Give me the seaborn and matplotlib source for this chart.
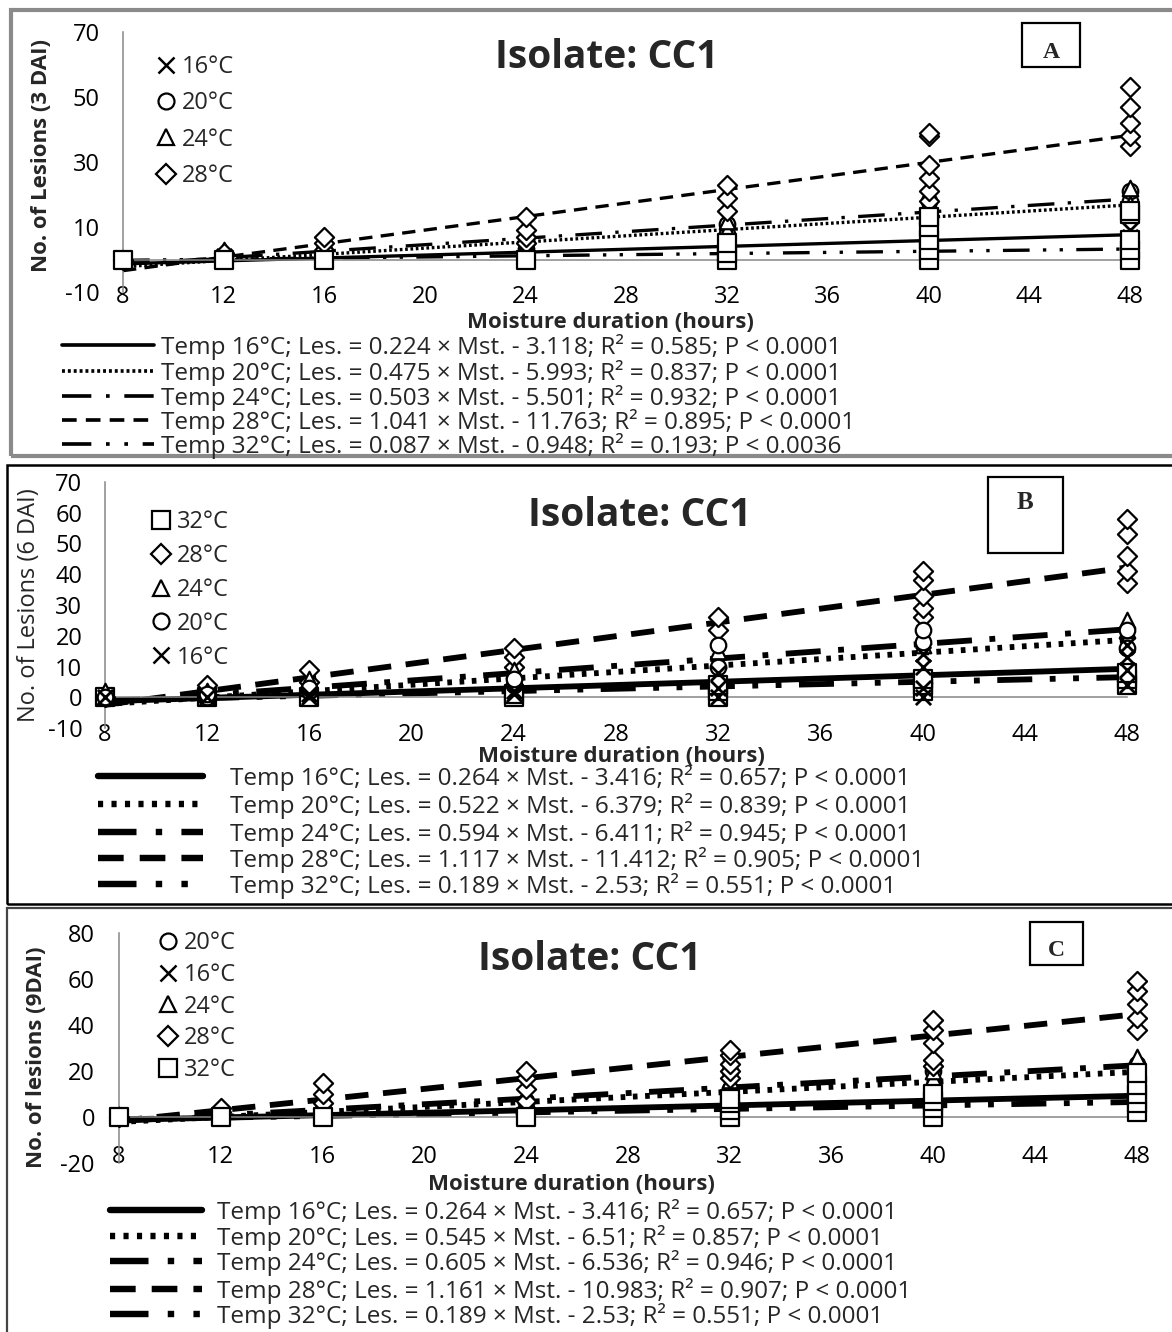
import warnings
warnings.filterwarnings('ignore')
import numpy as np
import pandas as pd
import matplotlib
matplotlib.use('Agg')
import matplotlib.pyplot as plt
from matplotlib.lines import Line2D
from matplotlib.patches import Rectangle
import seaborn as sns

sns.set_style('white')
plt.rcParams['font.family'] = ['Open Sans', 'DejaVu Sans']
plt.rcParams['axes.unicode_minus'] = False

# ---------------- data ----------------
moisture = [8, 12, 16, 24, 32, 40, 48]
temps = [16, 20, 24, 28, 32]

# Panel A (3 DAI): replicate lesion counts per moisture duration
a16 = [[0], [0, 1], [0, 1], [1, 3], [2, 5, 8], [4, 7, 10], [5, 7, 9]]
a20 = [[0], [1], [1, 3], [3, 5], [8, 11], [15, 18], [18, 21]]
a24 = [[0], [2, 3], [3, 5], [4, 6], [9, 12], [13, 16], [17, 22]]
a28 = [[0], [2], [3, 5, 7], [5, 7, 9, 13], [15, 19, 23], [18, 21, 25, 29, 38, 39], [35, 38, 42, 47, 53]]
a32 = [[0], [0], [0], [0], [0, 2, 5], [0, 3, 6, 10, 13], [0, 3, 6, 14, 15]]
a_slope = [0.224, 0.475, 0.503, 1.041, 0.087]
a_icpt = [-3.118, -5.993, -5.501, -11.763, -0.948]
a_r2 = ['0.585', '0.837', '0.932', '0.895', '0.193']
a_p = ['0.0001', '0.0001', '0.0001', '0.0001', '0.0036']

# Panel B (6 DAI)
b16 = [[0], [0], [0, 1], [1, 2], [0, 3, 8], [0, 3, 10, 14], [4, 9, 13, 17]]
b20 = [[0], [0, 1], [2, 3], [4, 6], [10, 17], [18, 22], [16, 22]]
b24 = [[0, 2], [1, 2], [3, 6], [6, 9], [12, 15], [17, 20], [22, 25]]
b28 = [[0], [2, 4], [5, 9], [10, 13, 16], [22, 26], [26, 29, 33, 38, 41], [37, 41, 46, 53, 58]]
b32 = [[0], [0], [0], [0, 1], [0, 2, 4], [2, 4, 6], [4, 6, 8]]
b_slope = [0.264, 0.522, 0.594, 1.117, 0.189]
b_icpt = [-3.416, -6.379, -6.411, -11.412, -2.53]
b_r2 = ['0.657', '0.839', '0.945', '0.905', '0.551']
b_p = ['0.0001', '0.0001', '0.0001', '0.0001', '0.0001']

# Panel C (9 DAI)
c16 = [[0], [0, 1], [0, 2], [1, 3], [3, 5], [5, 8], [7, 11]]
c20 = [[0], [0, 1], [2, 3], [4, 7], [12, 20], [20, 22], [20, 23]]
c24 = [[0, 1], [1, 4], [3, 6], [6, 9], [13, 16], [17, 20], [22, 26]]
c28 = [[0], [2, 4], [6, 10, 15], [7, 12, 17, 20], [17, 20, 23, 27, 29], [22, 25, 32, 38, 42], [38, 43, 49, 55, 59]]
c32 = [[0], [0], [0], [0], [0, 3, 6, 8], [0, 4, 7, 10], [2, 6, 10, 14, 19]]
c_slope = [0.264, 0.545, 0.605, 1.161, 0.189]
c_icpt = [-3.416, -6.51, -6.536, -10.983, -2.53]
c_r2 = ['0.657', '0.857', '0.946', '0.907', '0.551']
c_p = ['0.0001', '0.0001', '0.0001', '0.0001', '0.0001']

# ---------------- styles ----------------
W, H = 1172, 1332
MARK = {16: 'x', 20: 'o', 24: '^', 28: 'D', 32: 's'}
MSIZE = {16: 120, 20: 125, 24: 125, 28: 95, 32: 185}
LEGMS = {16: 12, 20: 11.5, 24: 11.5, 28: 10, 32: 12.5}
LEG_FS = 17.5


def fx(px):
    return px / W


def fy(py):
    return 1 - py / H


def long_form(series):
    xs, ys = [], []
    for m, vals in zip(moisture, series):
        for v in vals:
            xs.append(m)
            ys.append(v)
    return pd.DataFrame({'moisture': xs, 'lesions': ys})


fig = plt.figure(figsize=(W / 100, H / 100), dpi=100)

# panel frames
fig.add_artist(Rectangle((fx(11), fy(456)), fx(1190), 446 / H, transform=fig.transFigure,
                         fill=False, ec='#8a8a8a', lw=3.0))
fig.add_artist(Rectangle((fx(7), fy(904)), fx(1190), 439 / H, transform=fig.transFigure,
                         fill=False, ec='black', lw=1.8))
fig.add_artist(Rectangle((fx(7), fy(1400)), fx(1190), 492 / H, transform=fig.transFigure,
                         fill=False, ec='#444444', lw=1.6))

panels = [
    dict(series={16: a16, 20: a20, 24: a24, 28: a28, 32: a32}, slope=a_slope, icpt=a_icpt, r2=a_r2, p=a_p,
         box=(123, 1130, 32, 292), ylim=(-10, 70), yticks=[-10, 10, 30, 50, 70], tick_fs=17,
         xpad=12.5, ypad=11, ylabel='No. of Lesions (3 DAI)', ylw='bold', yls=16, ylpos=(42, 156),
         xlpos=(610, 322), title=(607, 58), lbox=(1022, 23, 1080, 67), letter='A', lpos=(1051, 53), lfs=17,
         order=[16, 20, 24, 28], mleg=(157, 55), mls=0.52, lw=2.4,
         dashes={16: '-', 20: (0, (0.8, 0.8)), 24: (0, (8, 4, 1, 4)), 28: (0, (4, 2.5)), 32: (0, (8, 4, 1, 4, 1, 4))},
         lleg_x=62, rows=[347, 373, 398, 422, 446], hlen=3.8, htp=0.28, draw=[16, 20, 24, 28, 32]),
    dict(series={16: b16, 20: b20, 24: b24, 28: b28, 32: b32}, slope=b_slope, icpt=b_icpt, r2=b_r2, p=b_p,
         box=(105, 1127, 482, 728), ylim=(-10, 70), yticks=list(range(-10, 71, 10)), tick_fs=17,
         xpad=13, ypad=10.5, ylabel='No. of Lesions (6 DAI)', ylw='normal', yls=17, ylpos=(29, 605),
         xlpos=(621, 757), title=(640, 515), lbox=(988, 477, 1063, 553), letter='B', lpos=(1025, 503), lfs=18,
         order=[32, 28, 24, 20, 16], mleg=(152, 510), mls=0.42, lw=4.2,
         dashes={16: '-', 20: (0, (0.8, 1.3)), 24: (0, (6, 3, 1, 3)), 28: (0, (4, 2.5)), 32: (0, (6, 3, 1, 3, 1, 3))},
         lleg_x=98, rows=[778, 806, 834, 860, 886], hlen=4.3, htp=1.15, draw=[32, 28, 24, 20, 16]),
    dict(series={16: c16, 20: c20, 24: c24, 28: c28, 32: c32}, slope=c_slope, icpt=c_icpt, r2=c_r2, p=c_p,
         box=(119, 1137, 933, 1163), ylim=(-20, 80), yticks=[-20, 0, 20, 40, 60, 80], tick_fs=17,
         xpad=14.3, ypad=11.5, ylabel='No. of lesions (9DAI)', ylw='bold', yls=16, ylpos=(37, 1057),
         xlpos=(571, 1185), title=(590, 960), lbox=(1030, 922, 1083, 965), letter='C', lpos=(1056, 950), lfs=17,
         order=[20, 16, 24, 28, 32], mleg=(159, 931), mls=0.33, lw=4.2,
         dashes={16: '-', 20: (0, (0.8, 1.3)), 24: (0, (6, 3, 1, 3)), 28: (0, (4, 2.5)), 32: (0, (6, 3, 1, 3, 1, 3))},
         lleg_x=110, rows=[1212, 1238, 1263, 1291, 1316], hlen=3.8, htp=0.6, draw=[20, 16, 24, 28, 32]),
]

for P in panels:
    x0, x1, yt, yb = P['box']
    ax = fig.add_axes([fx(x0), fy(yb), (x1 - x0) / W, (yb - yt) / H])
    ax.set_facecolor('none')

    # regression (trend) lines from the printed equations
    line_handles = []
    for i, t in enumerate(temps):
        xs = np.array([8.0, 48.0])
        ys = P['slope'][i] * xs + P['icpt'][i]
        sns.lineplot(x=xs, y=ys, ax=ax, color='black', lw=P['lw'], linestyle=P['dashes'][t],
                     legend=False, zorder=2)
        lab = (f"Temp {t}°C; Les. = {P['slope'][i]} × Mst. - {abs(P['icpt'][i])}; "
               f"R² = {P['r2'][i]}; P < {P['p'][i]}")
        line_handles.append(Line2D([], [], color='black', lw=P['lw'] * 1.1, linestyle=P['dashes'][t], label=lab))

    # observations
    for t in P['draw']:
        df = long_form(P['series'][t])
        if MARK[t] == 'x':
            sns.scatterplot(data=df, x='moisture', y='lesions', ax=ax, marker='x', s=MSIZE[t],
                            color='black', linewidth=2.0, clip_on=False, zorder=3, legend=False)
        else:
            sns.scatterplot(data=df, x='moisture', y='lesions', ax=ax, marker=MARK[t], s=MSIZE[t],
                            color='white', edgecolor='black', linewidth=1.6, clip_on=False, zorder=3,
                            legend=False)

    ax.set_xlim(8, 48)
    ax.set_ylim(*P['ylim'])
    ax.set_xticks(list(range(8, 49, 4)))
    ax.set_yticks(P['yticks'])
    for s in ['top', 'right']:
        ax.spines[s].set_visible(False)
    for s in ['left', 'bottom']:
        ax.spines[s].set_color('#868686')
        ax.spines[s].set_linewidth(1.1)
    ax.spines['bottom'].set_position(('data', 0))
    ax.tick_params(axis='both', direction='out', length=5.8, width=1.0, color='#868686',
                   labelsize=P['tick_fs'], labelcolor='black')
    ax.tick_params(axis='x', pad=P['xpad'])
    ax.tick_params(axis='y', pad=P['ypad'])
    ax.grid(False)

    ax.set_xlabel('Moisture duration (hours)', fontsize=16, fontweight='bold')
    ax.xaxis.label.set_va('center')
    ax.xaxis.set_label_coords(fx(P['xlpos'][0]), fy(P['xlpos'][1]), transform=fig.transFigure)
    ax.set_ylabel(P['ylabel'], fontsize=P['yls'], fontweight=P['ylw'])
    ax.yaxis.label.set_va('center')
    ax.yaxis.set_label_coords(fx(P['ylpos'][0]), fy(P['ylpos'][1]), transform=fig.transFigure)

    # marker legend
    mh = []
    for t in P['order']:
        if MARK[t] == 'x':
            mh.append(Line2D([], [], marker='x', ls='none', ms=LEGMS[t], mec='black', mew=1.8, label=f'{t}°C'))
        else:
            mh.append(Line2D([], [], marker=MARK[t], ls='none', ms=LEGMS[t], mfc='white', mec='black',
                             mew=1.6, label=f'{t}°C'))
    leg1 = ax.legend(handles=mh, loc='upper left', bbox_to_anchor=(fx(P['mleg'][0]), fy(P['mleg'][1])),
                     bbox_transform=fig.transFigure, frameon=False, borderpad=0, borderaxespad=0,
                     handlelength=0.8, handletextpad=0.25, labelspacing=P['mls'],
                     prop={'family': 'Open Sans', 'size': 17})

    # regression equations: one legend row per trend line
    for h, yrow in zip(line_handles, P['rows']):
        fig.legend(handles=[h], loc='center left',
                   bbox_to_anchor=(fx(P['lleg_x']), fy(yrow)), bbox_transform=fig.transFigure,
                   frameon=False, borderpad=0, borderaxespad=0, handlelength=P['hlen'],
                   handletextpad=P['htp'], prop={'family': 'Open Sans', 'size': LEG_FS})

    # title and panel letter
    fig.text(fx(P['title'][0]), fy(P['title'][1]), 'Isolate: CC1', ha='center', va='center',
             fontsize=28, fontweight='bold')
    bx0, by0, bx1, by1 = P['lbox']
    fig.add_artist(Rectangle((fx(bx0), fy(by1)), (bx1 - bx0) / W, (by1 - by0) / H,
                             transform=fig.transFigure, fill=False, ec='black', lw=1.6))
    fig.text(fx(P['lpos'][0]), fy(P['lpos'][1]), P['letter'], ha='center', va='center',
             fontsize=P['lfs'], fontweight='bold', family=['Liberation Serif', 'DejaVu Serif'])

fig.savefig('out.png', dpi=100)
